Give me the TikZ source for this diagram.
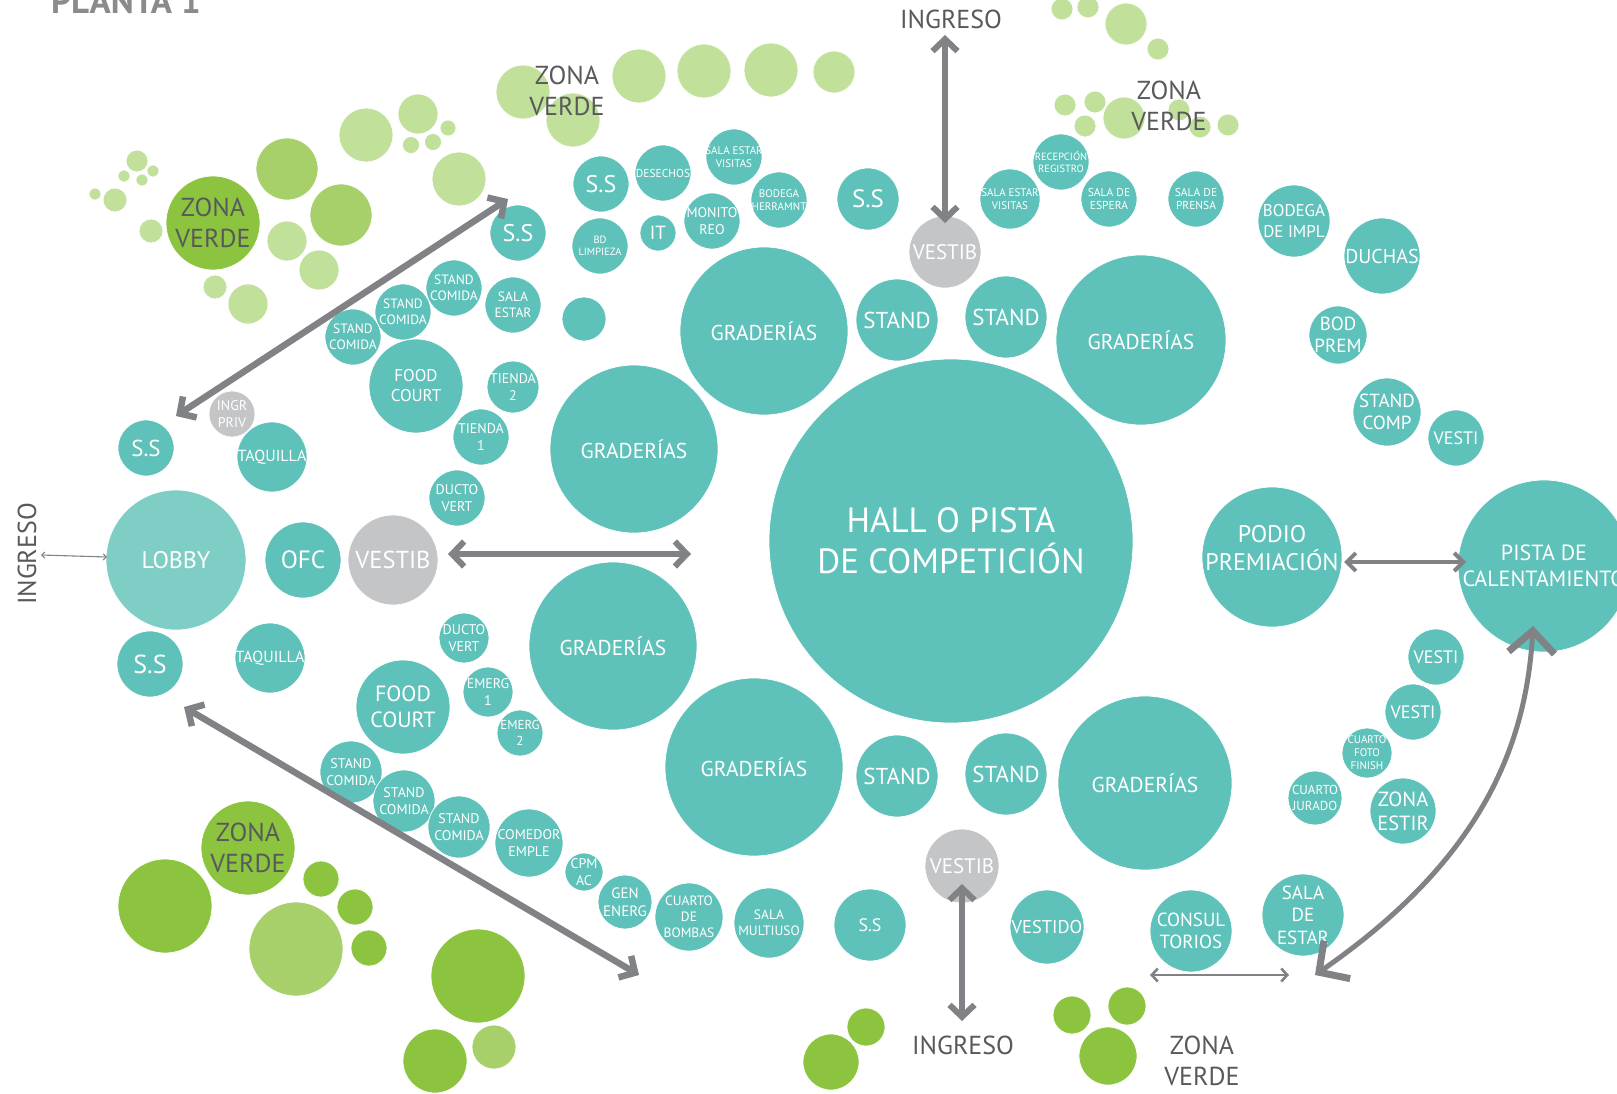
\documentclass[tikz,border=0pt]{standalone}
\usepackage{fontspec}
\setmainfont{PT Sans}
\usetikzlibrary{arrows.meta}

\definecolor{tealc}{HTML}{5FC2BA}
\definecolor{lobbyc}{HTML}{7FCEC6}
\definecolor{vestc}{HTML}{C4C5C7}
\definecolor{arrowc}{HTML}{808285}
\definecolor{textc}{HTML}{58595B}
\definecolor{titlec}{HTML}{8A8B8D}
\definecolor{gdark}{HTML}{8CC43F}
\definecolor{gmed}{HTML}{A7D06B}
\definecolor{glight}{HTML}{C1E09A}

\pgfdeclarelayer{labels}
\pgfdeclarelayer{arrows}
\pgfsetlayers{main,labels,arrows}

\newcommand\fs[1]{\fontsize{#1}{#1}\selectfont\baselineskip=1.18\baselineskip}

\tikzset{
  bubble/.style={circle, inner sep=0pt, draw=white, line width=0.7pt},
  tl/.style={fill=tealc},
  lb/.style={fill=lobbyc},
  gy/.style={fill=vestc},
  gd/.style={fill=gdark},
  gm/.style={fill=gmed},
  gl/.style={fill=glight},
  lbl/.style={text=white, align=center, inner sep=0pt},
  zlbl/.style={text=textc, align=center, inner sep=0pt},
  heavy/.style={draw=arrowc, line width=6pt,
    {Straight Barb[length=12pt,width=25pt]}-{Straight Barb[length=12pt,width=25pt]}},
  medarrow/.style={draw=arrowc, line width=4pt,
    {Straight Barb[length=9pt,width=18pt]}-{Straight Barb[length=9pt,width=18pt]}},
  thinarrow/.style={draw=arrowc, line width=2.6pt,
    {Straight Barb[length=6pt,width=13pt]}-{Straight Barb[length=6pt,width=13pt]}},
  hairarrow/.style={draw=arrowc, line width=1.1pt,
    {Straight Barb[length=3pt,width=6pt]}-{Straight Barb[length=3pt,width=6pt]}},
  curvearrow/.style={draw=arrowc, line width=5pt,
    {Straight Barb[length=22pt,width=46pt,line width=7pt]}-{Straight Barb[length=22pt,width=46pt,line width=7pt]}},
}

% labelled bubble: name, x, y, radius, fill style, label options, text
\newcommand\bub[7]{%
  \node[bubble,#5,minimum size=#4*2pt] (#1) at (#2,#3) {};
  \begin{pgfonlayer}{labels}
    \node[lbl,#6] (#1-t) at (#1.center) {#7};
  \end{pgfonlayer}}
% plain bubble without text
\newcommand\gb[5]{\node[bubble,#5,minimum size=#4*2pt] (#1) at (#2,#3) {};}

\begin{document}
\begin{tikzpicture}[x=1pt,y=-1pt]
\useasboundingbox (0,0) rectangle (1617,1093);
\fill[white] (0,0) rectangle (1617,1093);

% ---------- title ----------
\node[anchor=base west, inner sep=0pt, text=titlec, font=\fs{35}\bfseries] (title) at (51,13) {PLANTA 1};

% ---------- green areas, upper left ----------
\gb{g1}{95}{194}{6}{gl}
\gb{g2}{115}{200}{12}{gl}
\gb{g3}{137}{161}{11}{gl}
\gb{g4}{124}{176}{6}{gl}
\gb{g5}{142}{180}{6}{gl}
\gb{g6}{153}{171}{6}{gl}
\gb{g7}{151}{231}{12}{gl}
\gb{g8}{287}{169}{31}{gm}
\gb{g9}{341}{215}{31}{gm}
\gb{g10}{287}{241}{20}{gl}
\gb{g11}{319}{270}{20}{gl}
\gb{g12}{215}{287}{12}{gl}
\gb{g13}{248}{304}{20}{gl}
\gb{g14}{366}{135}{27}{gl}
\gb{g15}{418}{114}{20}{gl}
\gb{g16}{448}{128}{8}{gl}
\gb{g17}{411}{145}{8.5}{gl}
\gb{g18}{433}{142}{8.5}{gl}
\gb{g19}{459}{179}{27}{gl}
\gb{g20}{523}{92}{27}{gl}
\bub{zv1}{213}{223}{47}{gd}{zlbl,font=\fs{26}}{ZONA\\VERDE}

% ---------- green areas, top ----------
\gb{g21}{573}{120}{27}{gl}
\gb{g22}{639}{76}{27}{gl}
\gb{g23}{704}{71}{27}{gl}
\gb{g24}{771}{70}{27}{gl}
\gb{g25}{834}{72}{21}{gl}
\gb{g26}{1062}{9}{11}{gl}
\gb{g27}{1088}{7}{11}{gl}
\gb{g28}{1126}{24}{21}{gl}
\gb{g29}{1158}{49}{11}{gl}
\gb{g30}{1065}{105}{11}{gl}
\gb{g31}{1095}{102}{11}{gl}
\gb{g32}{1124}{118}{21}{gl}
\gb{g33}{1085}{126}{11}{gl}
\gb{g34}{1179}{110}{11}{gl}
\gb{g35}{1200}{127}{11}{gl}
\gb{g36}{1228}{125}{11}{gl}

% ---------- green areas, bottom ----------
\gb{g37}{165}{906}{47}{gd}
\gb{g38}{296}{949}{47}{gm}
\gb{g39}{321}{879}{18}{gd}
\gb{g40}{355}{907}{18}{gd}
\gb{g41}{369}{948}{18}{gd}
\gb{g42}{478}{976}{47}{gd}
\gb{g43}{435}{1061}{32}{gd}
\gb{g44}{494}{1047}{22}{gm}
\gb{g45}{866}{1027}{19}{gd}
\gb{g46}{831}{1062}{28}{gd}
\gb{g47}{1072}{1015}{19}{gd}
\gb{g48}{1127}{1006}{19}{gd}
\gb{g49}{1108}{1056}{29}{gd}
\bub{zv2}{248}{848}{47}{gd}{zlbl,font=\fs{26}}{ZONA\\VERDE}

% ---------- large spaces ----------
\bub{hall}{951}{541}{182}{tl}{font=\fs{35}}{HALL O PISTA\\DE COMPETICIÓN}
\bub{gr1}{764}{331}{84}{tl}{font=\fs{21.5}}{GRADERÍAS}
\bub{gr2}{1141}{340}{85}{tl}{font=\fs{21.5}}{GRADERÍAS}
\bub{gr3}{634}{449}{84}{tl}{font=\fs{21.5}}{GRADERÍAS}
\bub{gr4}{613}{646}{84}{tl}{font=\fs{21.5}}{GRADERÍAS}
\bub{gr5}{754}{767}{89}{tl}{font=\fs{21.5}}{GRADERÍAS}
\bub{gr6}{1145}{783}{87}{tl}{font=\fs{21.5}}{GRADERÍAS}
\bub{st1}{897}{320}{41}{tl}{font=\fs{23}}{STAND}
\bub{st2}{1006}{317}{41}{tl}{font=\fs{23}}{STAND}
\bub{st3}{897}{776}{41}{tl}{font=\fs{23}}{STAND}
\bub{st4}{1006}{774}{41}{tl}{font=\fs{23}}{STAND}

% ---------- upper service ring ----------
\bub{ss6}{601}{184}{28}{tl}{font=\fs{24}}{S.S}
\bub{des}{663}{173}{28}{tl}{font=\fs{11.5}}{DESECHOS}
\bub{sev1}{734}{157}{28}{tl}{font=\fs{11}}{SALA ESTAR\\VISITAS}
\bub{bh}{779}{200}{28}{tl}{font=\fs{11}}{BODEGA\\HERRAMNT}
\bub{mon}{712}{221}{28}{tl}{font=\fs{14}}{MONITO\\REO}
\bub{it}{658}{233}{18}{tl}{font=\fs{19}}{IT}
\bub{bdl}{600}{246}{28}{tl}{font=\fs{10.5}}{BD\\LIMPIEZA}
\bub{ss5}{868}{199}{31}{tl}{font=\fs{25}}{S.S}
\bub{ves2}{945}{252}{36}{gy}{font=\fs{21}}{VESTIB}
\bub{sev2}{1010}{199}{30}{tl}{font=\fs{11}}{SALA ESTAR\\VISITAS}
\bub{recep}{1061}{162}{28}{tl}{font=\fs{10.5}}{RECEPCIÓN\\REGISTRO}
\bub{sesp}{1109}{199}{28}{tl}{font=\fs{11.5}}{SALA DE\\ESPERA}
\bub{spren}{1196}{199}{28}{tl}{font=\fs{11.5}}{SALA DE\\PRENSA}
\bub{bimpl}{1294}{221}{36}{tl}{font=\fs{17}}{BODEGA\\DE IMPL}
\bub{duch}{1382}{256}{38}{tl}{font=\fs{20}}{DUCHAS}
\bub{bp}{1338}{335}{29}{tl}{font=\fs{19}}{BOD\\PREM}
\bub{scomp}{1387}{412}{34}{tl}{font=\fs{19}}{STAND\\COMP}
\bub{vsi1}{1456}{438}{28}{tl}{font=\fs{18}}{VESTI}

% ---------- west wing ----------
\bub{ss1}{518}{233}{28}{tl}{font=\fs{24}}{S.S}
\bub{sc1}{454}{288}{28}{tl}{font=\fs{13.5}}{STAND\\COMIDA}
\bub{sc2}{403}{312}{28}{tl}{font=\fs{13.5}}{STAND\\COMIDA}
\bub{sc3}{353}{337}{28}{tl}{font=\fs{13.5}}{STAND\\COMIDA}
\bub{se1}{513}{305}{28}{tl}{font=\fs{13.5}}{SALA\\ESTAR}
\gb{blank}{584}{319}{22}{tl}
\bub{fc1}{416}{386}{47}{tl}{font=\fs{17}}{FOOD\\COURT}
\bub{ti2}{513}{387}{26}{tl}{font=\fs{14}}{TIENDA\\2}
\bub{ti1}{481}{437}{28}{tl}{font=\fs{14}}{TIENDA\\1}
\bub{dv1}{457}{498}{28}{tl}{font=\fs{14}}{DUCTO\\VERT}
\bub{ip}{232}{414}{23}{gy}{font=\fs{14}}{INGR\\PRIV}
\bub{ss2}{146}{448}{28}{tl}{font=\fs{23}}{S.S}
\bub{ta1}{272}{457}{35}{tl}{font=\fs{16}}{TAQUILLA}
\bub{lobby}{176}{560}{70}{lb}{font=\fs{24}}{LOBBY}
\bub{ofc}{303}{560}{38}{tl}{font=\fs{25}}{OFC}
\bub{ves1}{393}{560}{45}{gy}{font=\fs{24.5}}{VESTIB}
\bub{ss3}{150}{664}{33}{tl}{font=\fs{26}}{S.S}
\bub{ta2}{270}{658}{35}{tl}{font=\fs{16}}{TAQUILLA}
\bub{dv2}{464}{638}{25}{tl}{font=\fs{14}}{DUCTO\\VERT}
\bub{em1}{488}{692}{25}{tl}{font=\fs{14}}{EMERG\\1}
\bub{em2}{520}{733}{23}{tl}{font=\fs{13}}{EMERG\\2}
\bub{fc2}{403}{707}{47}{tl}{font=\fs{22}}{FOOD\\COURT}
\bub{sc4}{351}{772}{31}{tl}{font=\fs{14}}{STAND\\COMIDA}
\bub{sc5}{404}{801}{31}{tl}{font=\fs{14}}{STAND\\COMIDA}
\bub{sc6}{459}{827}{31}{tl}{font=\fs{14}}{STAND\\COMIDA}
\bub{com}{529}{843}{34}{tl}{font=\fs{14}}{COMEDOR\\EMPLE}

% ---------- lower service ring ----------
\bub{cpm}{584}{872}{19}{tl}{font=\fs{14}}{CPM\\AC}
\bub{gen}{625}{902}{27}{tl}{font=\fs{15}}{GEN\\ENERG}
\bub{bomb}{689}{917}{34}{tl}{font=\fs{13.5}}{CUARTO\\DE\\BOMBAS}
\bub{mult}{769}{923}{35}{tl}{font=\fs{13.5}}{SALA\\MULTIUSO}
\bub{ss4}{870}{925}{36}{tl}{font=\fs{18}}{S.S}
\bub{ves3}{962}{866}{37}{gy}{font=\fs{21}}{VESTIB}
\bub{vdo}{1047}{927}{37}{tl}{font=\fs{18.5}}{VESTIDO}
\bub{cons}{1191}{931}{41}{tl}{font=\fs{19}}{CONSUL\\TORIOS}
\bub{sde}{1303}{915}{41}{tl}{font=\fs{19}}{SALA\\DE\\ESTAR}

% ---------- east wing ----------
\bub{cj}{1315}{798}{27}{tl}{font=\fs{13}}{CUARTO\\JURADO}
\bub{cff}{1367}{753}{25}{tl}{font=\fs{11}}{CUARTO\\FOTO\\FINISH}
\bub{ze}{1403}{811}{33}{tl}{font=\fs{20.5}}{ZONA\\ESTIR}
\bub{vsi3}{1413}{712}{28}{tl}{font=\fs{18}}{VESTI}
\bub{vsi2}{1436}{657}{28}{tl}{font=\fs{18}}{VESTI}
\bub{podio}{1272}{557}{70}{tl}{font=\fs{24},yshift=9pt}{PODIO\\PREMIACIÓN}
\bub{pista}{1544}{566}{86}{tl}{font=\fs{22}}{PISTA DE\\CALENTAMIENTO}

% ---------- free labels ----------
\node[zlbl,font=\fs{26}] (zvtop) at (567,91) {ZONA\\VERDE};
\node[zlbl,font=\fs{26}] (zvtr) at (1169,106) {ZONA\\VERDE};
\node[zlbl,font=\fs{26}] (zvbr) at (1202,1061) {ZONA\\VERDE};
\node[zlbl,font=\fs{26}] (ingtop) at (951,19) {INGRESO};
\node[zlbl,font=\fs{26}] (ingbot) at (963,1045) {INGRESO};
\node[zlbl,font=\fs{26},rotate=90] (ingleft) at (27,554) {INGRESO};

% ---------- circulation arrows ----------
\coordinate (a1s) at (176,416);  \coordinate (a1e) at (508,199);
\coordinate (a2s) at (448,554);  \coordinate (a2e) at (691,554);
\coordinate (a3s) at (184,707);  \coordinate (a3e) at (639,975);
\coordinate (a4s) at (945,223);  \coordinate (a4e) at (945,35);
\coordinate (a5s) at (962,884);  \coordinate (a5e) at (962,1021);
\coordinate (a6s) at (1344,562); \coordinate (a6e) at (1466,562);
\coordinate (a7s) at (41,555);   \coordinate (a7e) at (107,557);
\coordinate (a8s) at (1150,975); \coordinate (a8e) at (1289,975);
\coordinate (a9s) at (1533,626); \coordinate (a9e) at (1315,975);

\begin{pgfonlayer}{arrows}
  \draw[heavy,line width=6.5pt] (a1s) -- (a1e);
  \draw[heavy] (a2s) -- (a2e);
  \draw[heavy,line width=6.5pt] (a3s) -- (a3e);
  \draw[heavy] (a4s) -- (a4e);
  \draw[heavy] (a5s) -- (a5e);
  \draw[medarrow] (a6s) -- (a6e);
  \draw[hairarrow] (a7s) -- (a7e);
  \draw[thinarrow] (a8s) -- (a8e);
  \draw[curvearrow] (a9s) .. controls (1526,750) and (1478,862) .. (a9e);
\end{pgfonlayer}
\end{tikzpicture}
\end{document}
